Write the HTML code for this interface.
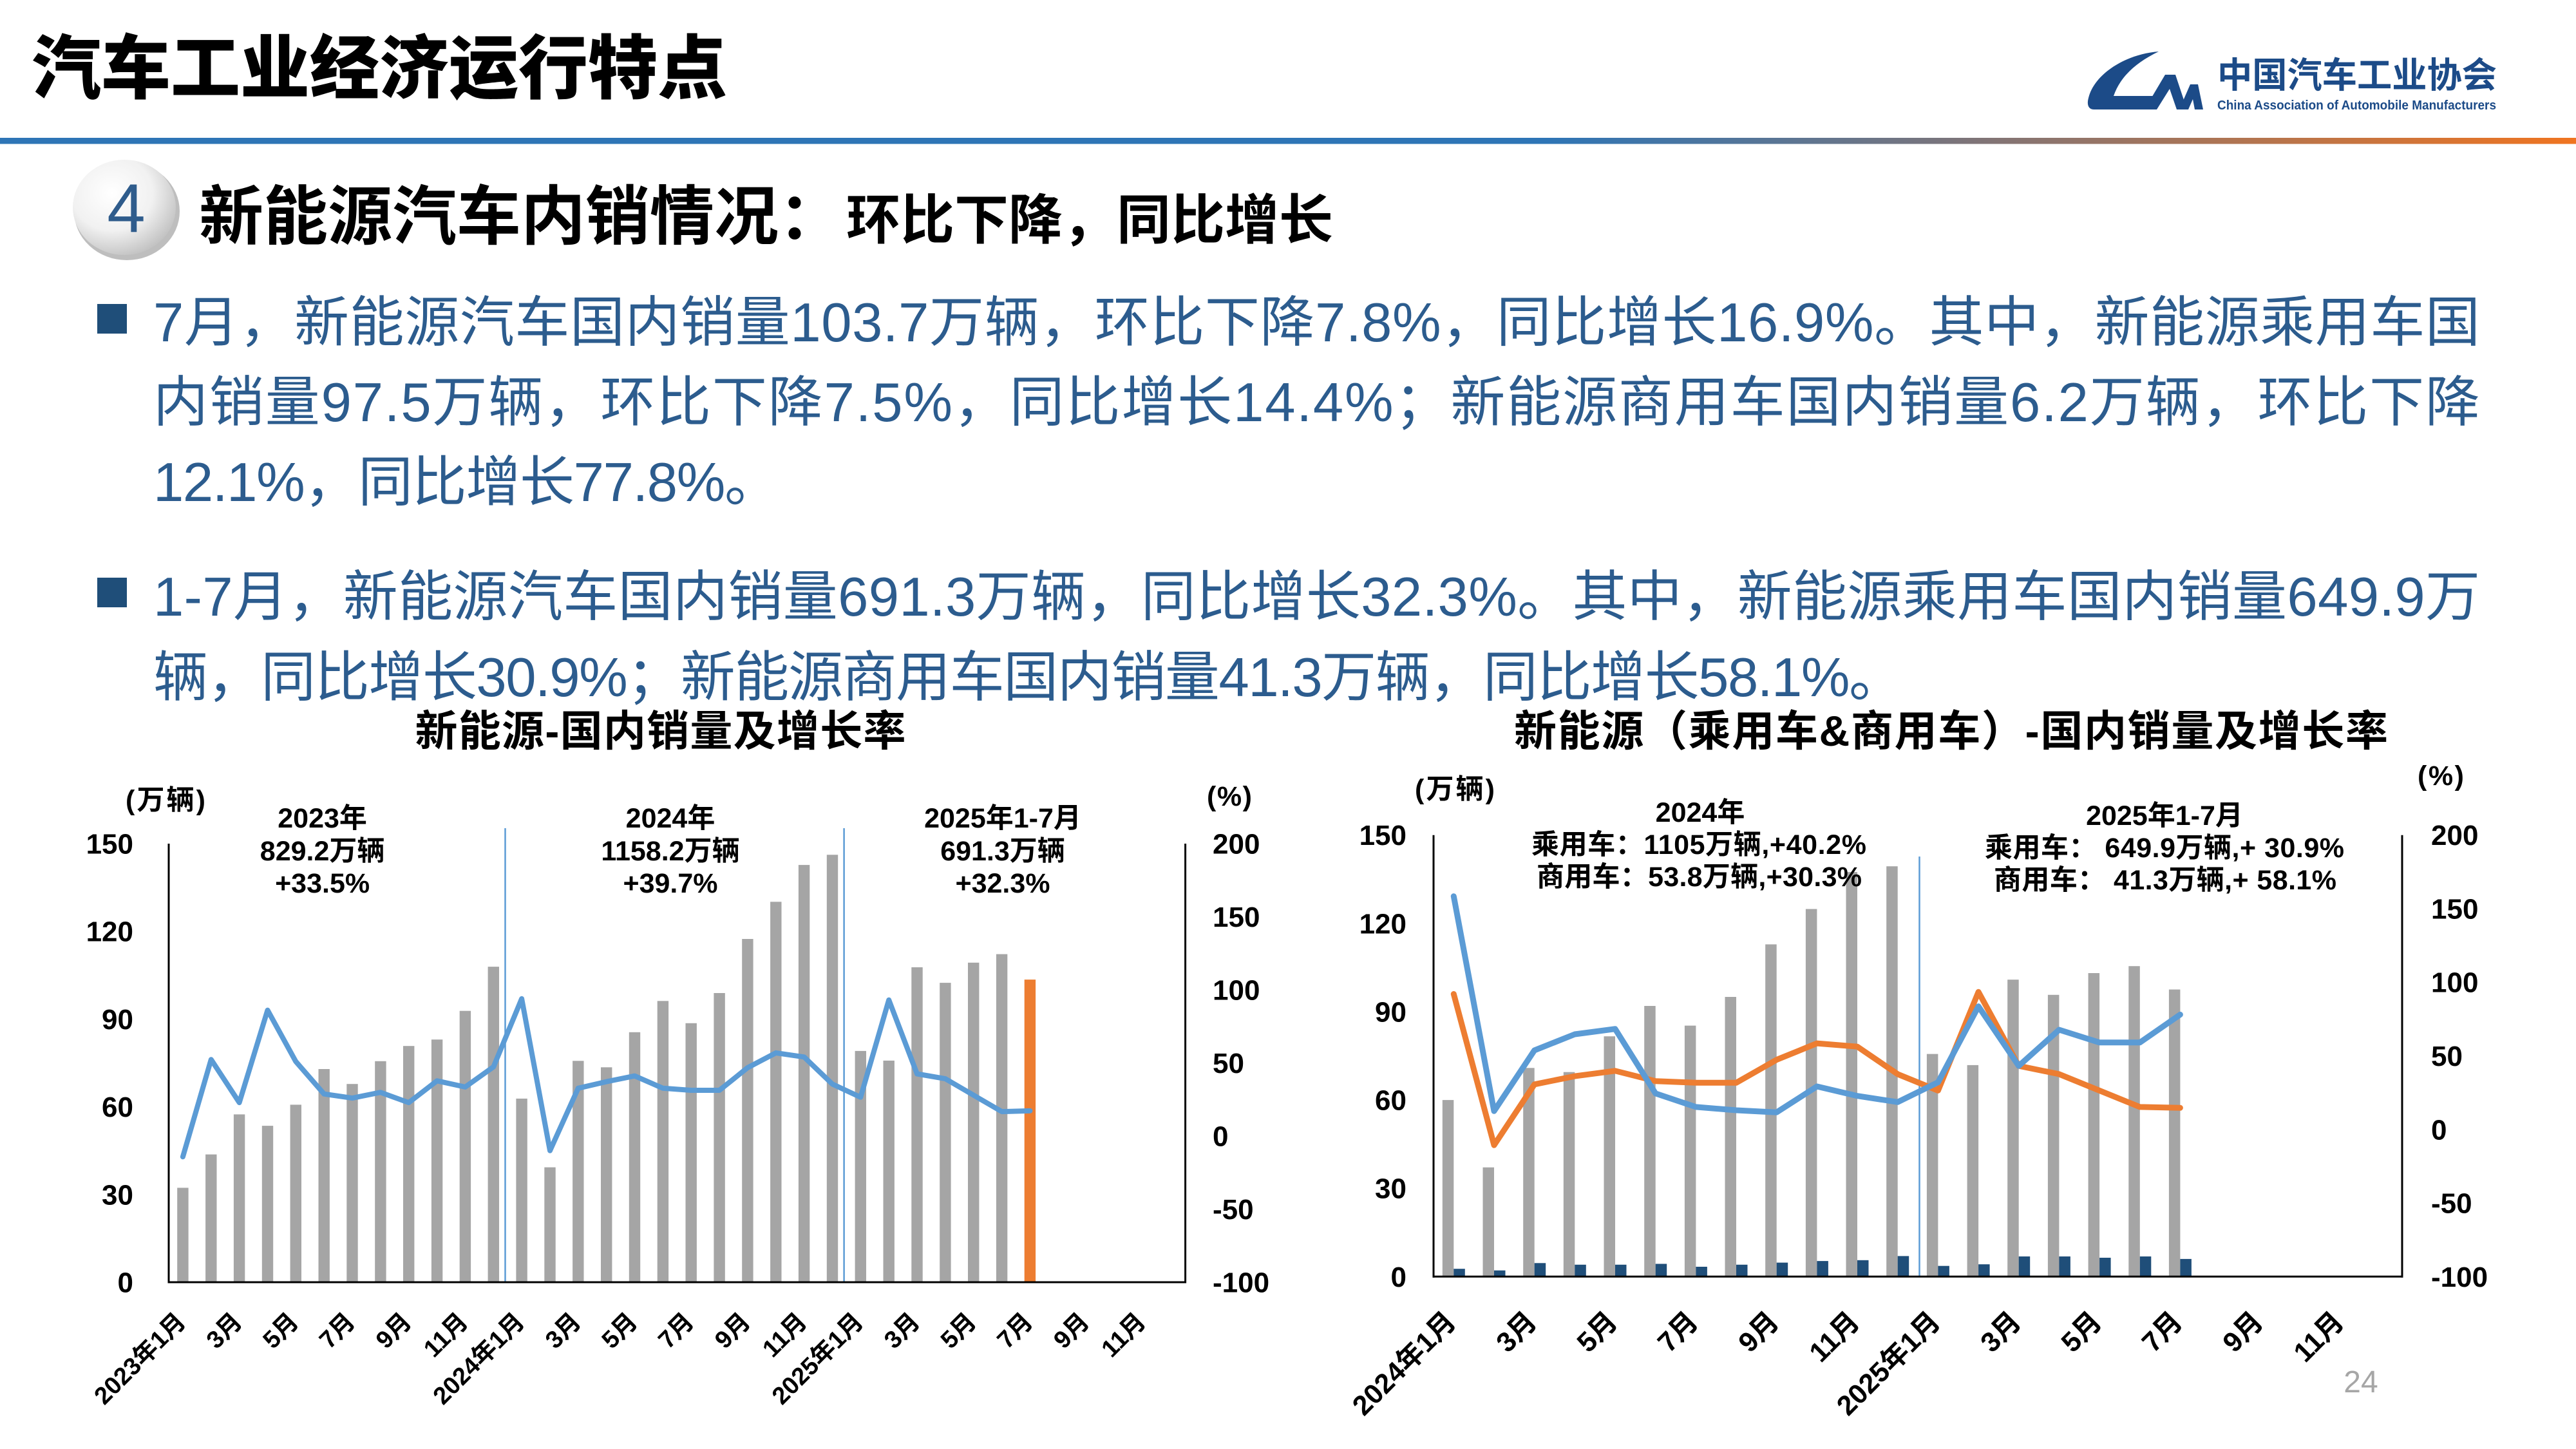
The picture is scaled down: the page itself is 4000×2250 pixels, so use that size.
<!DOCTYPE html>
<html><head><meta charset="utf-8"><style>
html,body{margin:0;padding:0;background:#fff;}
svg{display:block;}
text{font-family:"Liberation Sans","Noto Sans CJK SC",sans-serif;}
.b{font-weight:700;}
</style></head><body>
<svg width="4000" height="2250" viewBox="0 0 4000 2250" xmlns="http://www.w3.org/2000/svg">
<defs>
<linearGradient id="hl" x1="0" y1="0" x2="1" y2="0">
<stop offset="0" stop-color="#2E75B6"/><stop offset="0.6" stop-color="#2E75B6"/><stop offset="1" stop-color="#F07420"/>
</linearGradient>
<radialGradient id="cg" cx="0.38" cy="0.35" r="0.72">
<stop offset="0" stop-color="#FFFFFF"/><stop offset="0.55" stop-color="#F1F1F1"/><stop offset="1" stop-color="#BDBDBD"/>
</radialGradient>
</defs>
<rect width="4000" height="2250" fill="#fff"/>

<!-- Header -->
<text x="49" y="144" font-size="108" font-weight="900" fill="#000">汽车工业经济运行特点</text>
<rect x="0" y="214" width="4000" height="9.5" fill="url(#hl)"/>

<!-- Logo -->
<path d="M3352,80 C3300,84 3252,115 3243,152 C3240,163 3243,170 3252,170 L3336,170 L3345,149 L3282,149 C3292,120 3315,98 3352,80 Z" fill="#1C4B88"/>
<polygon points="3330,170 3362,116 3378,116 3396,170 3380,170 3369,138 3349,170" fill="#1C4B88"/>
<polygon points="3384,170 3401,131 3413,131 3421,170 3408,170 3405,154 3398,170" fill="#1C4B88"/>
<text x="3443" y="136" font-size="55" class="b" fill="#1C4B88" textLength="434" lengthAdjust="spacingAndGlyphs">中国汽车工业协会</text>
<text x="3443" y="170" font-size="20" class="b" fill="#1C4B88" textLength="433" lengthAdjust="spacingAndGlyphs">China Association of Automobile Manufacturers</text>

<!-- Section heading -->
<ellipse cx="197" cy="328" rx="82" ry="76" fill="#BEBEBE"/>
<ellipse cx="193" cy="322" rx="80" ry="74" fill="url(#cg)"/>
<text x="196" y="360" font-size="107" fill="#2F5C8C" text-anchor="middle">4</text>
<text x="309" y="371" font-size="100" class="b" fill="#000">新能源汽车内销情况：</text>
<text x="1314" y="371" font-size="84" class="b" fill="#000">环比下降，同比增长</text>

<!-- Bullets -->
<rect x="151" y="472" width="46" height="46" fill="#1F4E79"/>
<rect x="151" y="897" width="46" height="46" fill="#1F4E79"/>
<g font-size="85" fill="#2C5C8E">
<text x="238" y="530" textLength="3613" lengthAdjust="spacing">7月，新能源汽车国内销量103.7万辆，环比下降7.8%，同比增长16.9%。其中，新能源乘用车国</text>
<text x="238" y="654" textLength="3613" lengthAdjust="spacing">内销量97.5万辆，环比下降7.5%，同比增长14.4%；新能源商用车国内销量6.2万辆，环比下降</text>
<text x="238" y="778" textLength="972" lengthAdjust="spacing">12.1%，同比增长77.8%。</text>
<text x="238" y="956" textLength="3613" lengthAdjust="spacing">1-7月，新能源汽车国内销量691.3万辆，同比增长32.3%。其中，新能源乘用车国内销量649.9万</text>
<text x="238" y="1081" textLength="2718" lengthAdjust="spacing">辆，同比增长30.9%；新能源商用车国内销量41.3万辆，同比增长58.1%。</text>
</g>

<!-- Chart titles -->
<text x="1025.5" y="1158" font-size="66" class="b" text-anchor="middle" textLength="762" lengthAdjust="spacing">新能源-国内销量及增长率</text>
<text x="3029.5" y="1158" font-size="66" class="b" text-anchor="middle" textLength="1357" lengthAdjust="spacing">新能源（乘用车&amp;商用车）-国内销量及增长率</text>

<!-- ============ LEFT CHART ============ -->
<g fill="#A5A5A5">
<rect x="275.2" y="1844.4" width="17.4" height="146.6"/>
<rect x="319.1" y="1792.6" width="17.4" height="198.4"/>
<rect x="362.9" y="1730.4" width="17.4" height="260.6"/>
<rect x="406.8" y="1748.1" width="17.4" height="242.9"/>
<rect x="450.6" y="1715.4" width="17.4" height="275.6"/>
<rect x="494.5" y="1660.0" width="17.4" height="331.0"/>
<rect x="538.3" y="1683.2" width="17.4" height="307.8"/>
<rect x="582.2" y="1647.8" width="17.4" height="343.2"/>
<rect x="626.0" y="1624.2" width="17.4" height="366.8"/>
<rect x="669.9" y="1614.2" width="17.4" height="376.8"/>
<rect x="713.7" y="1569.7" width="17.4" height="421.3"/>
<rect x="757.6" y="1501.1" width="17.4" height="489.9"/>
<rect x="801.4" y="1705.9" width="17.4" height="285.1"/>
<rect x="845.3" y="1812.6" width="17.4" height="178.4"/>
<rect x="889.1" y="1647.3" width="17.4" height="343.7"/>
<rect x="933.0" y="1657.3" width="17.4" height="333.7"/>
<rect x="976.8" y="1602.8" width="17.4" height="388.2"/>
<rect x="1020.7" y="1554.3" width="17.4" height="436.7"/>
<rect x="1064.5" y="1588.8" width="17.4" height="402.2"/>
<rect x="1108.4" y="1542.0" width="17.4" height="449.0"/>
<rect x="1152.2" y="1458.0" width="17.4" height="533.0"/>
<rect x="1196.1" y="1400.3" width="17.4" height="590.7"/>
<rect x="1239.9" y="1343.1" width="17.4" height="647.9"/>
<rect x="1283.8" y="1327.3" width="17.4" height="663.7"/>
<rect x="1327.6" y="1631.9" width="17.4" height="359.1"/>
<rect x="1371.5" y="1646.9" width="17.4" height="344.1"/>
<rect x="1415.3" y="1502.0" width="17.4" height="489.0"/>
<rect x="1459.2" y="1526.1" width="17.4" height="464.9"/>
<rect x="1503.0" y="1494.8" width="17.4" height="496.2"/>
<rect x="1546.9" y="1481.6" width="17.4" height="509.4"/>
</g>
<rect x="1590.7" y="1521.1" width="17.4" height="469.9" fill="#ED7D31"/>

<line x1="784.5" y1="1286" x2="784.5" y2="1991" stroke="#5B9BD5" stroke-width="2.5"/>
<line x1="1310.6" y1="1286" x2="1310.6" y2="1991" stroke="#5B9BD5" stroke-width="2.5"/>

<polyline fill="none" stroke="#5B9BD5" stroke-width="8" stroke-linejoin="round" stroke-linecap="round"
points="283.9,1796.3 327.8,1645.2 371.6,1712.1 415.5,1568.6 459.3,1648.3 503.2,1698.7 547.0,1705.1 590.9,1696.2 634.7,1712.1 678.6,1678.3 722.4,1687.9 766.3,1656.6 810.1,1550.8 854.0,1786.7 897.8,1689.8 941.7,1679.6 985.5,1670.7 1029.4,1689.8 1073.2,1693 1117.1,1693 1160.9,1657.9 1204.8,1634.9 1248.6,1641.3 1292.5,1683.4 1336.3,1703.8 1380.2,1552.7 1424.0,1667.5 1467.9,1675.1 1511.7,1700.6 1555.6,1726.1 1599.4,1724.9"/>

<g stroke="#000" stroke-width="3" fill="none">
<line x1="262" y1="1310" x2="262" y2="1992.5"/>
<line x1="1840.6" y1="1310" x2="1840.6" y2="1992.5"/>
<line x1="260.5" y1="1991" x2="1842" y2="1991"/>
</g>

<g font-size="44" class="b" fill="#000" text-anchor="end">
<text x="207" y="1325.5">150</text>
<text x="207" y="1461.7">120</text>
<text x="207" y="1597.9">90</text>
<text x="207" y="1734.1">60</text>
<text x="207" y="1870.3">30</text>
<text x="207" y="2006.5">0</text>
</g>
<g font-size="44" class="b" fill="#000">
<text x="1883" y="1325.5">200</text>
<text x="1883" y="1439">150</text>
<text x="1883" y="1552.5">100</text>
<text x="1883" y="1666">50</text>
<text x="1883" y="1779.5">0</text>
<text x="1883" y="1893">-50</text>
<text x="1883" y="2006.5">-100</text>
</g>
<text x="195" y="1257" font-size="43" class="b" textLength="124" lengthAdjust="spacing">(万辆)</text>
<text x="1874" y="1251" font-size="43" class="b" textLength="70" lengthAdjust="spacing">(%)</text>

<g font-size="43" class="b" fill="#000" text-anchor="middle">
<text x="500.6" y="1285">2023年</text>
<text x="500.6" y="1336">829.2万辆</text>
<text x="500.6" y="1386">+33.5%</text>
<text x="1041" y="1285">2024年</text>
<text x="1041" y="1336">1158.2万辆</text>
<text x="1041" y="1386">+39.7%</text>
<text x="1557" y="1285">2025年1-7月</text>
<text x="1557" y="1336">691.3万辆</text>
<text x="1557" y="1386">+32.3%</text>
</g>

<g font-size="38" class="b" fill="#000" text-anchor="end" dominant-baseline="central">
<text transform="translate(282,2046) rotate(-45)">2023年1月</text>
<text transform="translate(369.6,2046) rotate(-45)">3月</text>
<text transform="translate(457.3,2046) rotate(-45)">5月</text>
<text transform="translate(545,2046) rotate(-45)">7月</text>
<text transform="translate(632.7,2046) rotate(-45)">9月</text>
<text transform="translate(720.4,2046) rotate(-45)">11月</text>
<text transform="translate(808.1,2046) rotate(-45)">2024年1月</text>
<text transform="translate(895.8,2046) rotate(-45)">3月</text>
<text transform="translate(983.5,2046) rotate(-45)">5月</text>
<text transform="translate(1071.2,2046) rotate(-45)">7月</text>
<text transform="translate(1158.9,2046) rotate(-45)">9月</text>
<text transform="translate(1246.6,2046) rotate(-45)">11月</text>
<text transform="translate(1334.3,2046) rotate(-45)">2025年1月</text>
<text transform="translate(1422,2046) rotate(-45)">3月</text>
<text transform="translate(1509.7,2046) rotate(-45)">5月</text>
<text transform="translate(1597.4,2046) rotate(-45)">7月</text>
<text transform="translate(1685.1,2046) rotate(-45)">9月</text>
<text transform="translate(1772.8,2046) rotate(-45)">11月</text>
</g>

<!-- ============ RIGHT CHART ============ -->
<g fill="#A5A5A5">
<rect x="2239.8" y="1708.1" width="17.5" height="274.2"/>
<rect x="2302.5" y="1812.7" width="17.5" height="169.6"/>
<rect x="2365.2" y="1658.3" width="17.5" height="324.0"/>
<rect x="2427.8" y="1664.7" width="17.5" height="317.6"/>
<rect x="2490.5" y="1609.2" width="17.5" height="373.1"/>
<rect x="2553.2" y="1562.0" width="17.5" height="420.3"/>
<rect x="2615.9" y="1592.6" width="17.5" height="389.7"/>
<rect x="2678.5" y="1548.0" width="17.5" height="434.3"/>
<rect x="2741.2" y="1466.4" width="17.5" height="515.9"/>
<rect x="2803.9" y="1411.5" width="17.5" height="570.8"/>
<rect x="2866.5" y="1354.1" width="17.5" height="628.2"/>
<rect x="2929.2" y="1345.2" width="17.5" height="637.1"/>
<rect x="2991.9" y="1636.6" width="17.5" height="345.7"/>
<rect x="3054.6" y="1653.9" width="17.5" height="328.4"/>
<rect x="3117.2" y="1521.2" width="17.5" height="461.1"/>
<rect x="3179.9" y="1544.8" width="17.5" height="437.5"/>
<rect x="3242.6" y="1511.0" width="17.5" height="471.3"/>
<rect x="3305.3" y="1500.2" width="17.5" height="482.1"/>
<rect x="3367.9" y="1536.5" width="17.5" height="445.8"/>
</g>
<g fill="#1F4E79">
<rect x="2257.3" y="1970.2" width="17.5" height="12.1"/>
<rect x="2320.0" y="1972.7" width="17.5" height="9.6"/>
<rect x="2382.7" y="1961.3" width="17.5" height="21.0"/>
<rect x="2445.3" y="1963.8" width="17.5" height="18.5"/>
<rect x="2508.0" y="1963.8" width="17.5" height="18.5"/>
<rect x="2570.7" y="1962.5" width="17.5" height="19.8"/>
<rect x="2633.4" y="1967.0" width="17.5" height="15.3"/>
<rect x="2696.0" y="1963.8" width="17.5" height="18.5"/>
<rect x="2758.7" y="1960.6" width="17.5" height="21.7"/>
<rect x="2821.4" y="1958.1" width="17.5" height="24.2"/>
<rect x="2884.0" y="1956.8" width="17.5" height="25.5"/>
<rect x="2946.7" y="1950.4" width="17.5" height="31.9"/>
<rect x="3009.4" y="1965.7" width="17.5" height="16.6"/>
<rect x="3072.1" y="1963.2" width="17.5" height="19.1"/>
<rect x="3134.7" y="1951.0" width="17.5" height="31.3"/>
<rect x="3197.4" y="1951.0" width="17.5" height="31.3"/>
<rect x="3260.1" y="1953.0" width="17.5" height="29.3"/>
<rect x="3322.8" y="1951.0" width="17.5" height="31.3"/>
<rect x="3385.4" y="1954.9" width="17.5" height="27.4"/>
</g>

<line x1="2980.5" y1="1330" x2="2980.5" y2="1982" stroke="#5B9BD5" stroke-width="2.5"/>

<polyline fill="none" stroke="#ED7D31" stroke-width="9" stroke-linejoin="round" stroke-linecap="round"
points="2257.3,1543.5 2320.0,1778.2 2382.7,1683.8 2445.3,1671.1 2508.0,1662.8 2570.7,1678.7 2633.4,1681.3 2696.0,1681.3 2758.7,1645.6 2821.4,1620.1 2884.0,1625.2 2946.7,1667.9 3009.4,1693.4 3072.1,1540.3 3134.7,1655.1 3197.4,1667.9 3260.1,1693.4 3322.8,1718.9 3385.4,1720.2"/>
<polyline fill="none" stroke="#5B9BD5" stroke-width="9" stroke-linejoin="round" stroke-linecap="round"
points="2257.3,1391.7 2320.0,1725.3 2382.7,1630.9 2445.3,1606.0 2508.0,1597.7 2570.7,1697.9 2633.4,1718.9 2696.0,1724.0 2758.7,1727.2 2821.4,1687.0 2884.0,1701.7 2946.7,1711.3 3009.4,1680.6 3072.1,1562.7 3134.7,1655.1 3197.4,1599.0 3260.1,1618.8 3322.8,1618.8 3385.4,1575.4"/>

<g stroke="#000" stroke-width="3" fill="none">
<line x1="2226" y1="1296.7" x2="2226" y2="1983.8"/>
<line x1="3730" y1="1296.7" x2="3730" y2="1983.8"/>
<line x1="2224.5" y1="1982.3" x2="3731.5" y2="1982.3"/>
</g>

<g font-size="44" class="b" fill="#000" text-anchor="end">
<text x="2184" y="1312.2">150</text>
<text x="2184" y="1449.3">120</text>
<text x="2184" y="1586.5">90</text>
<text x="2184" y="1723.6">60</text>
<text x="2184" y="1860.7">30</text>
<text x="2184" y="1997.8">0</text>
</g>
<g font-size="44" class="b" fill="#000">
<text x="3775" y="1312.2">200</text>
<text x="3775" y="1426.5">150</text>
<text x="3775" y="1540.7">100</text>
<text x="3775" y="1655">50</text>
<text x="3775" y="1769.3">0</text>
<text x="3775" y="1883.5">-50</text>
<text x="3775" y="1997.8">-100</text>
</g>
<text x="2197" y="1240" font-size="43" class="b" textLength="124" lengthAdjust="spacing">(万辆)</text>
<text x="3754" y="1219" font-size="43" class="b" textLength="72" lengthAdjust="spacing">(%)</text>

<g font-size="43" class="b" fill="#000" style="white-space:pre">
<text x="2640" y="1276" text-anchor="middle">2024年</text>
<text x="2378" y="1326" textLength="520" lengthAdjust="spacing">乘用车：1105万辆,+40.2%</text>
<text x="2386" y="1376" textLength="505" lengthAdjust="spacing">商用车：53.8万辆,+30.3%</text>
<text x="3361" y="1281" text-anchor="middle">2025年1-7月</text>
<text x="3082" y="1331" textLength="558" lengthAdjust="spacing">乘用车：  649.9万辆,+ 30.9%</text>
<text x="3096" y="1381" textLength="532" lengthAdjust="spacing">商用车：  41.3万辆,+ 58.1%</text>
</g>

<g font-size="43" class="b" fill="#000" text-anchor="end" dominant-baseline="central">
<text transform="translate(2253.3,2045) rotate(-45)">2024年1月</text>
<text transform="translate(2378.7,2045) rotate(-45)">3月</text>
<text transform="translate(2504,2045) rotate(-45)">5月</text>
<text transform="translate(2629.4,2045) rotate(-45)">7月</text>
<text transform="translate(2754.7,2045) rotate(-45)">9月</text>
<text transform="translate(2880,2045) rotate(-45)">11月</text>
<text transform="translate(3005.4,2045) rotate(-45)">2025年1月</text>
<text transform="translate(3130.7,2045) rotate(-45)">3月</text>
<text transform="translate(3256.1,2045) rotate(-45)">5月</text>
<text transform="translate(3381.4,2045) rotate(-45)">7月</text>
<text transform="translate(3506.8,2045) rotate(-45)">9月</text>
<text transform="translate(3632.1,2045) rotate(-45)">11月</text>
</g>

<!-- Page number -->
<text x="3666" y="2162" font-size="48" fill="#A6A6A6" text-anchor="middle">24</text>
</svg>
</body></html>
